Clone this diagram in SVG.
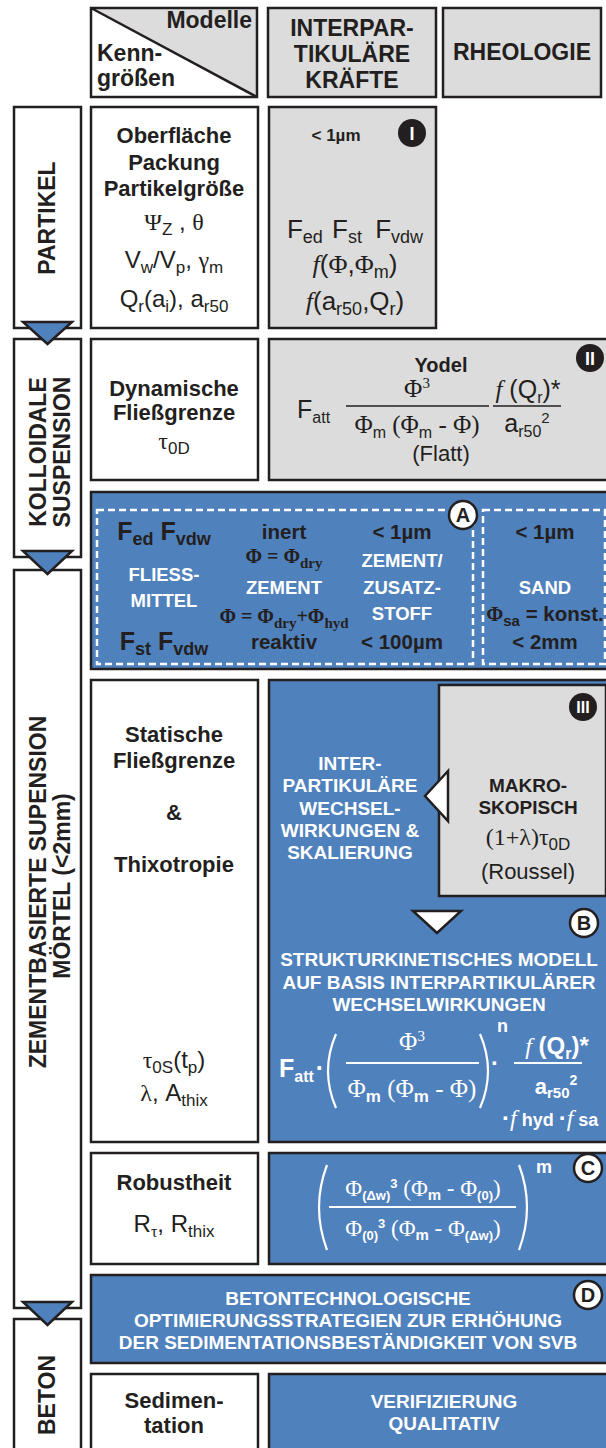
<svg xmlns="http://www.w3.org/2000/svg" width="606" height="1448" viewBox="0 0 606 1448">
<style>
text{font-family:"Liberation Sans",Arial,sans-serif;fill:#231f20}
.bx{stroke:#231f20;stroke-width:2.5}
.nf{fill:none}
.w{fill:#fff}.g{fill:#dcdcdc}.b{fill:#4f81bd}
.lb{font-weight:bold;font-size:22px;text-anchor:middle}
.vl{font-weight:bold;font-size:23px;text-anchor:middle}
.wh{font-weight:bold;font-size:19px;text-anchor:middle;fill:#fff}
.rg{font-size:24px;text-anchor:middle}
.dk{font-weight:bold;font-size:20.5px;text-anchor:middle}
.sv{font-family:"Liberation Serif","Times New Roman",serif}
.fi{font-family:"Liberation Serif","Times New Roman",serif;font-style:italic}
.wt{fill:#fff}
.dash{fill:none;stroke:#fff;stroke-width:2.5;stroke-dasharray:7 4}
.ln{stroke:#231f20;stroke-width:1.5}
.wln{stroke:#fff;stroke-width:2}
.par{fill:none;stroke:#fff;stroke-width:2.2}
.tri{fill:#4f81bd;stroke:#231f20;stroke-width:2.5}
.wtri{fill:#fff;stroke:#231f20;stroke-width:2.5}
.cb{fill:#231f20}
.cw{fill:#fff;stroke:#231f20;stroke-width:2.5}
.ci{font-weight:bold;font-size:18px;text-anchor:middle}
</style>

<!-- header -->
<g id="hdr-kenngroessen">
<rect class="w" x="91" y="8" width="166" height="89"/>
<polygon class="g" points="91,8 257,8 257,97"/>
<line class="bx" x1="91" y1="8" x2="257" y2="97"/>
<rect class="bx nf" x="91" y="8" width="166" height="89"/>
<text class="lb" x="252" y="28" style="text-anchor:end;font-size:23px">Modelle</text>
<text class="lb" x="97" y="61" style="text-anchor:start;font-size:23px">Kenn-</text>
<text class="lb" x="97" y="86" style="text-anchor:start;font-size:23px">größen</text>
</g>
<g id="hdr-interpartikulaer">
<rect class="bx g" x="268" y="8" width="168" height="89"/>
<text class="lb" x="352" y="36" style="font-size:23px">INTERPAR-</text>
<text class="lb" x="352" y="62" style="font-size:23px">TIKULÄRE</text>
<text class="lb" x="352" y="88" style="font-size:23px">KRÄFTE</text>
</g>
<g id="hdr-rheologie">
<rect class="bx g" x="443" y="8" width="158" height="89"/>
<text class="lb" x="522" y="60" style="font-size:23px">RHEOLOGIE</text>
</g>

<!-- left bars -->
<g id="bar-partikel">
<rect class="bx w" x="14" y="107" width="67" height="221"/>
<text class="vl" transform="translate(55,218) rotate(-90)">PARTIKEL</text>
</g>
<g id="bar-kolloidale">
<rect class="bx w" x="14" y="339" width="67" height="218"/>
<text class="vl" transform="translate(46,452) rotate(-90)">KOLLOIDALE</text>
<text class="vl" transform="translate(70,452) rotate(-90)">SUSPENSION</text>
</g>
<g id="bar-zement">
<rect class="bx w" x="14" y="570" width="67" height="738"/>
<text class="vl" transform="translate(46,892) rotate(-90)">ZEMENTBASIERTE SUPENSION</text>
<text class="vl" transform="translate(70,886) rotate(-90)">MÖRTEL (&lt;2mm)</text>
</g>
<g id="bar-beton">
<rect class="bx w" x="14" y="1319" width="67" height="140"/>
<text class="vl" transform="translate(55,1395) rotate(-90)">BETON</text>
</g>

<!-- row 1 -->
<g id="partikel-kenn">
<rect class="bx w" x="91" y="107" width="167" height="221"/>
<text class="lb" x="174" y="143">Oberfläche</text>
<text class="lb" x="174" y="170">Packung</text>
<text class="lb" x="174" y="196">Partikelgröße</text>
<text class="rg" x="174" y="230"><tspan class="sv">Ψ</tspan><tspan dy="5" font-size="17">Z</tspan><tspan dy="-5"> , </tspan><tspan class="sv">θ</tspan></text>
<text class="rg" x="174" y="268">V<tspan dy="5" font-size="17">w</tspan><tspan dy="-5">/V</tspan><tspan dy="5" font-size="17">p</tspan><tspan dy="-5">, </tspan><tspan class="sv">γ</tspan><tspan dy="5" font-size="17">m</tspan></text>
<text class="rg" x="174" y="307">Q<tspan dy="5" font-size="17">r</tspan><tspan dy="-5">(a</tspan><tspan dy="5" font-size="17">i</tspan><tspan dy="-5">), a</tspan><tspan dy="5" font-size="17">r50</tspan></text>
</g>
<g id="modell-I">
<rect class="bx g" x="269" y="107" width="167" height="221"/>
<text class="lb" x="336" y="141" style="font-size:17px">&lt; 1µm</text>
<circle class="cb" cx="412" cy="133" r="14"/>
<text class="ci wt" x="412" y="139.5">I</text>
<text class="rg" x="355" y="238" style="font-size:26px">F<tspan dy="5" font-size="18">ed</tspan><tspan dy="-5" dx="2"> F</tspan><tspan dy="5" font-size="18">st</tspan><tspan dy="-5" dx="6"> F</tspan><tspan dy="5" font-size="18">vdw</tspan></text>
<text class="rg" x="355" y="273" style="font-size:26px"><tspan class="fi">f</tspan>(<tspan class="sv">Φ</tspan>,<tspan class="sv">Φ</tspan><tspan dy="5" font-size="18">m</tspan><tspan dy="-5">)</tspan></text>
<text class="rg" x="355" y="310" style="font-size:26px"><tspan class="fi">f</tspan>(a<tspan dy="5" font-size="18">r50</tspan><tspan dy="-5">,Q</tspan><tspan dy="5" font-size="18">r</tspan><tspan dy="-5">)</tspan></text>
</g>

<!-- row 2 -->
<g id="kolloid-kenn">
<rect class="bx w" x="91" y="339" width="167" height="141"/>
<text class="lb" x="174" y="396">Dynamische</text>
<text class="lb" x="174" y="420">Fließgrenze</text>
<text class="rg" x="174" y="449"><tspan class="sv">τ</tspan><tspan dy="5" font-size="17">0D</tspan></text>
</g>
<g id="modell-II">
<rect class="bx g" x="269" y="339" width="340" height="141"/>
<circle class="cb" cx="590" cy="358" r="14"/>
<text class="ci wt" x="590" y="364.5">II</text>
<text class="lb" x="441" y="372" style="font-size:20px">Yodel</text>
<text x="297" y="418" style="font-size:25px">F<tspan dy="5" font-size="16">att</tspan></text>
<text class="sv" x="417" y="397" style="font-size:25px;text-anchor:middle">Φ<tspan dy="-9" font-size="15">3</tspan></text>
<line class="ln" x1="346" y1="406" x2="489" y2="406"/>
<text x="417" y="433" style="font-size:25px;text-anchor:middle"><tspan class="sv">Φ</tspan><tspan dy="5" font-size="16">m</tspan><tspan dy="-5" class="sv"> (Φ</tspan><tspan dy="5" font-size="16">m</tspan><tspan dy="-5" class="sv"> - Φ)</tspan></text>
<text x="528" y="398" style="font-size:25px;text-anchor:middle"><tspan class="fi">f</tspan> (Q<tspan dy="5" font-size="16">r</tspan><tspan dy="-5">)*</tspan></text>
<line class="ln" x1="493" y1="406" x2="561" y2="406"/>
<text x="527" y="432" style="font-size:25px;text-anchor:middle">a<tspan dy="5" font-size="16">r50</tspan><tspan dy="-14" font-size="15">2</tspan></text>
<text x="441" y="461" style="font-size:22px;text-anchor:middle">(Flatt)</text>
</g>

<!-- row A -->
<g id="modell-A">
<rect class="bx b" x="91" y="492" width="518" height="177"/>
<rect class="dash" x="97" y="510" width="376" height="154"/>
<rect class="dash" x="483" y="510" width="122" height="154"/>
<circle class="cw" cx="463" cy="515" r="14"/>
<text class="ci" x="463" y="522" style="font-size:20px">A</text>
<text class="dk" x="164" y="540" style="font-size:25px">F<tspan dy="5" font-size="18">ed</tspan><tspan dy="-5"> F</tspan><tspan dy="5" font-size="18">vdw</tspan></text>
<text class="wh" x="164" y="581" style="font-size:18.5px">FLIESS-</text>
<text class="wh" x="164" y="607" style="font-size:18.5px">MITTEL</text>
<text class="dk" x="164" y="650" style="font-size:25px">F<tspan dy="5" font-size="18">st</tspan><tspan dy="-5"> F</tspan><tspan dy="5" font-size="18">vdw</tspan></text>
<text class="dk" x="284" y="539">inert</text>
<text class="dk sv" x="284" y="563" style="font-size:20px">Φ = Φ<tspan dy="5" font-size="15">dry</tspan></text>
<text class="wh" x="284" y="594" style="font-size:18.5px">ZEMENT</text>
<text class="dk sv" x="284" y="623" style="font-size:20px">Φ = Φ<tspan dy="5" font-size="15">dry</tspan><tspan dy="-5">+Φ</tspan><tspan dy="5" font-size="15">hyd</tspan></text>
<text class="dk" x="284" y="649">reaktiv</text>
<text class="dk" x="402" y="539">&lt; 1µm</text>
<text class="wh" x="402" y="567" style="font-size:18.5px">ZEMENT/</text>
<text class="wh" x="402" y="594" style="font-size:18.5px">ZUSATZ-</text>
<text class="wh" x="402" y="620" style="font-size:18.5px">STOFF</text>
<text class="dk" x="402" y="649">&lt; 100µm</text>
<text class="dk" x="545" y="539">&lt; 1µm</text>
<text class="wh" x="545" y="594" style="font-size:18.5px">SAND</text>
<text class="dk" x="545" y="621"><tspan class="sv">Φ</tspan><tspan dy="5" font-size="15">sa</tspan><tspan dy="-5"> = konst.</tspan></text>
<text class="dk" x="545" y="649">&lt; 2mm</text>
</g>

<!-- row B -->
<g id="zement-kenn">
<rect class="bx w" x="91" y="680" width="167" height="462"/>
<text class="lb" x="174" y="742">Statische</text>
<text class="lb" x="174" y="768">Fließgrenze</text>
<text class="lb" x="174" y="820">&amp;</text>
<text class="lb" x="174" y="872">Thixotropie</text>
<text class="rg" x="174" y="1068"><tspan class="sv">τ</tspan><tspan dy="5" font-size="17">0S</tspan><tspan dy="-5">(t</tspan><tspan dy="5" font-size="17">p</tspan><tspan dy="-5">)</tspan></text>
<text class="rg" x="174" y="1101"><tspan class="sv">λ</tspan>,  A<tspan dy="5" font-size="17">thix</tspan></text>
</g>
<g id="modell-B">
<rect class="bx b" x="269" y="680" width="340" height="462"/>
<text class="wh" x="350" y="770">INTER-</text>
<text class="wh" x="350" y="792">PARTIKULÄRE</text>
<text class="wh" x="350" y="815">WECHSEL-</text>
<text class="wh" x="350" y="837">WIRKUNGEN &amp;</text>
<text class="wh" x="350" y="859">SKALIERUNG</text>
<polygon class="wtri" points="413,911 461,911 437,933"/>
<circle class="cw" cx="584" cy="923" r="14"/>
<text class="ci" x="584" y="930" style="font-size:20px">B</text>
<text class="wh" x="439" y="966">STRUKTURKINETISCHES MODELL</text>
<text class="wh" x="439" y="989">AUF BASIS INTERPARTIKULÄRER</text>
<text class="wh" x="439" y="1011">WECHSELWIRKUNGEN</text>
<text class="wt" x="279" y="1077" style="font-size:25px;font-weight:bold">F<tspan dy="5" font-size="16">att</tspan><tspan dy="-5" dx="2">·</tspan></text>
<path class="par" d="M336,1034 Q320,1071 336,1108"/>
<path class="par" d="M480,1034 Q496,1071 480,1108"/>
<text class="wt" x="497" y="1032" style="font-size:18px;font-weight:bold">n</text>
<text class="wt sv" x="412" y="1050" style="font-size:25px;text-anchor:middle">Φ<tspan dy="-9" font-size="15">3</tspan></text>
<line class="wln" x1="346" y1="1063" x2="479" y2="1063"/>
<text class="wt" x="412" y="1097" style="font-size:25px;text-anchor:middle"><tspan class="sv">Φ</tspan><tspan dy="5" font-size="17" font-weight="bold">m</tspan><tspan dy="-5" class="sv"> (Φ</tspan><tspan dy="5" font-size="17" font-weight="bold">m</tspan><tspan dy="-5" class="sv"> - Φ)</tspan></text>
<text class="wt" x="491" y="1071" style="font-size:24px;font-weight:bold">·</text>
<text class="wt" x="557" y="1054" style="font-size:24px;font-weight:bold;text-anchor:middle"><tspan class="fi" font-weight="normal">f</tspan> (Q<tspan dy="5" font-size="16">r</tspan><tspan dy="-5">)*</tspan></text>
<line class="wln" x1="514" y1="1063" x2="582" y2="1063"/>
<text class="wt" x="556" y="1094" style="font-size:22px;font-weight:bold;text-anchor:middle">a<tspan dy="4" font-size="15">r50</tspan><tspan dy="-13" font-size="14">2</tspan></text>
<text class="wt" x="502" y="1126" style="font-size:24px;font-weight:bold">·<tspan class="fi" font-weight="normal">f</tspan><tspan font-size="18"> hyd </tspan>·<tspan class="fi" font-weight="normal">f</tspan><tspan font-size="18"> sa</tspan></text>
</g>
<g id="modell-III">
<rect class="bx g" x="439" y="685" width="167" height="211"/>
<circle class="cb" cx="583" cy="707" r="14"/>
<text class="ci wt" x="583" y="713" style="font-size:16px">III</text>
<text class="lb" x="528" y="792" style="font-size:19px">MAKRO-</text>
<text class="lb" x="528" y="814" style="font-size:19px">SKOPISCH</text>
<text class="rg" x="528" y="845"><tspan class="sv">(1+λ)τ</tspan><tspan dy="5" font-size="17">0D</tspan></text>
<text class="rg" x="528" y="879" style="font-size:22px">(Roussel)</text>
<polygon class="wtri" points="448,771 425,796 448,821"/>
</g>

<!-- row C -->
<g id="robust-kenn">
<rect class="bx w" x="91" y="1153" width="167" height="111"/>
<text class="lb" x="174" y="1190">Robustheit</text>
<text class="rg" x="174" y="1232">R<tspan dy="5" font-size="16" class="sv">τ</tspan><tspan dy="-5">,  R</tspan><tspan dy="5" font-size="17">thix</tspan></text>
</g>
<g id="modell-C">
<rect class="bx b" x="269" y="1153" width="340" height="111"/>
<path class="par" d="M327,1165 Q311,1207 327,1250"/>
<path class="par" d="M519,1165 Q535,1207 519,1250"/>
<text class="wt" x="536" y="1173" style="font-size:18px;font-weight:bold">m</text>
<text class="wt" x="423" y="1196" style="font-size:23px;text-anchor:middle"><tspan class="sv">Φ</tspan><tspan dy="4" font-size="13" font-weight="bold">(Δw)</tspan><tspan dy="-12" font-size="13" font-weight="bold">3</tspan><tspan dy="8" class="sv"> (Φ</tspan><tspan dy="4" font-size="15" font-weight="bold">m</tspan><tspan dy="-4" class="sv"> - Φ</tspan><tspan dy="4" font-size="13" font-weight="bold">(0)</tspan><tspan dy="-4" class="sv">)</tspan></text>
<line class="wln" x1="329" y1="1207" x2="516" y2="1207"/>
<text class="wt" x="423" y="1236" style="font-size:23px;text-anchor:middle"><tspan class="sv">Φ</tspan><tspan dy="4" font-size="13" font-weight="bold">(0)</tspan><tspan dy="-12" font-size="13" font-weight="bold">3</tspan><tspan dy="8" class="sv"> (Φ</tspan><tspan dy="4" font-size="15" font-weight="bold">m</tspan><tspan dy="-4" class="sv"> - Φ</tspan><tspan dy="4" font-size="13" font-weight="bold">(Δw)</tspan><tspan dy="-4" class="sv">)</tspan></text>
<circle class="cw" cx="588" cy="1168" r="14"/>
<text class="ci" x="588" y="1175" style="font-size:20px">C</text>
</g>

<!-- row D -->
<g id="modell-D">
<rect class="bx b" x="91" y="1275" width="518" height="88"/>
<text class="wh" x="348" y="1305">BETONTECHNOLOGISCHE</text>
<text class="wh" x="348" y="1327">OPTIMIERUNGSSTRATEGIEN ZUR ERHÖHUNG</text>
<text class="wh" x="348" y="1349">DER SEDIMENTATIONSBESTÄNDIGKEIT VON SVB</text>
<circle class="cw" cx="588" cy="1295" r="14"/>
<text class="ci" x="588" y="1302" style="font-size:20px">D</text>
</g>

<!-- last row -->
<g id="beton-kenn">
<rect class="bx w" x="91" y="1374" width="167" height="90"/>
<text class="lb" x="174" y="1408">Sedimen-</text>
<text class="lb" x="174" y="1433">tation</text>
</g>
<g id="verifizierung">
<rect class="bx b" x="269" y="1374" width="340" height="90"/>
<text class="wh" x="444" y="1408">VERIFIZIERUNG</text>
<text class="wh" x="444" y="1430">QUALITATIV</text>
</g>

<!-- connectors -->
<g id="connectors">
<polygon class="tri" points="23,322 72,322 47.5,344"/>
<polygon class="tri" points="23,551 72,551 47.5,574"/>
<polygon class="tri" points="23,1302 72,1302 47.5,1325"/>
</g>
</svg>
